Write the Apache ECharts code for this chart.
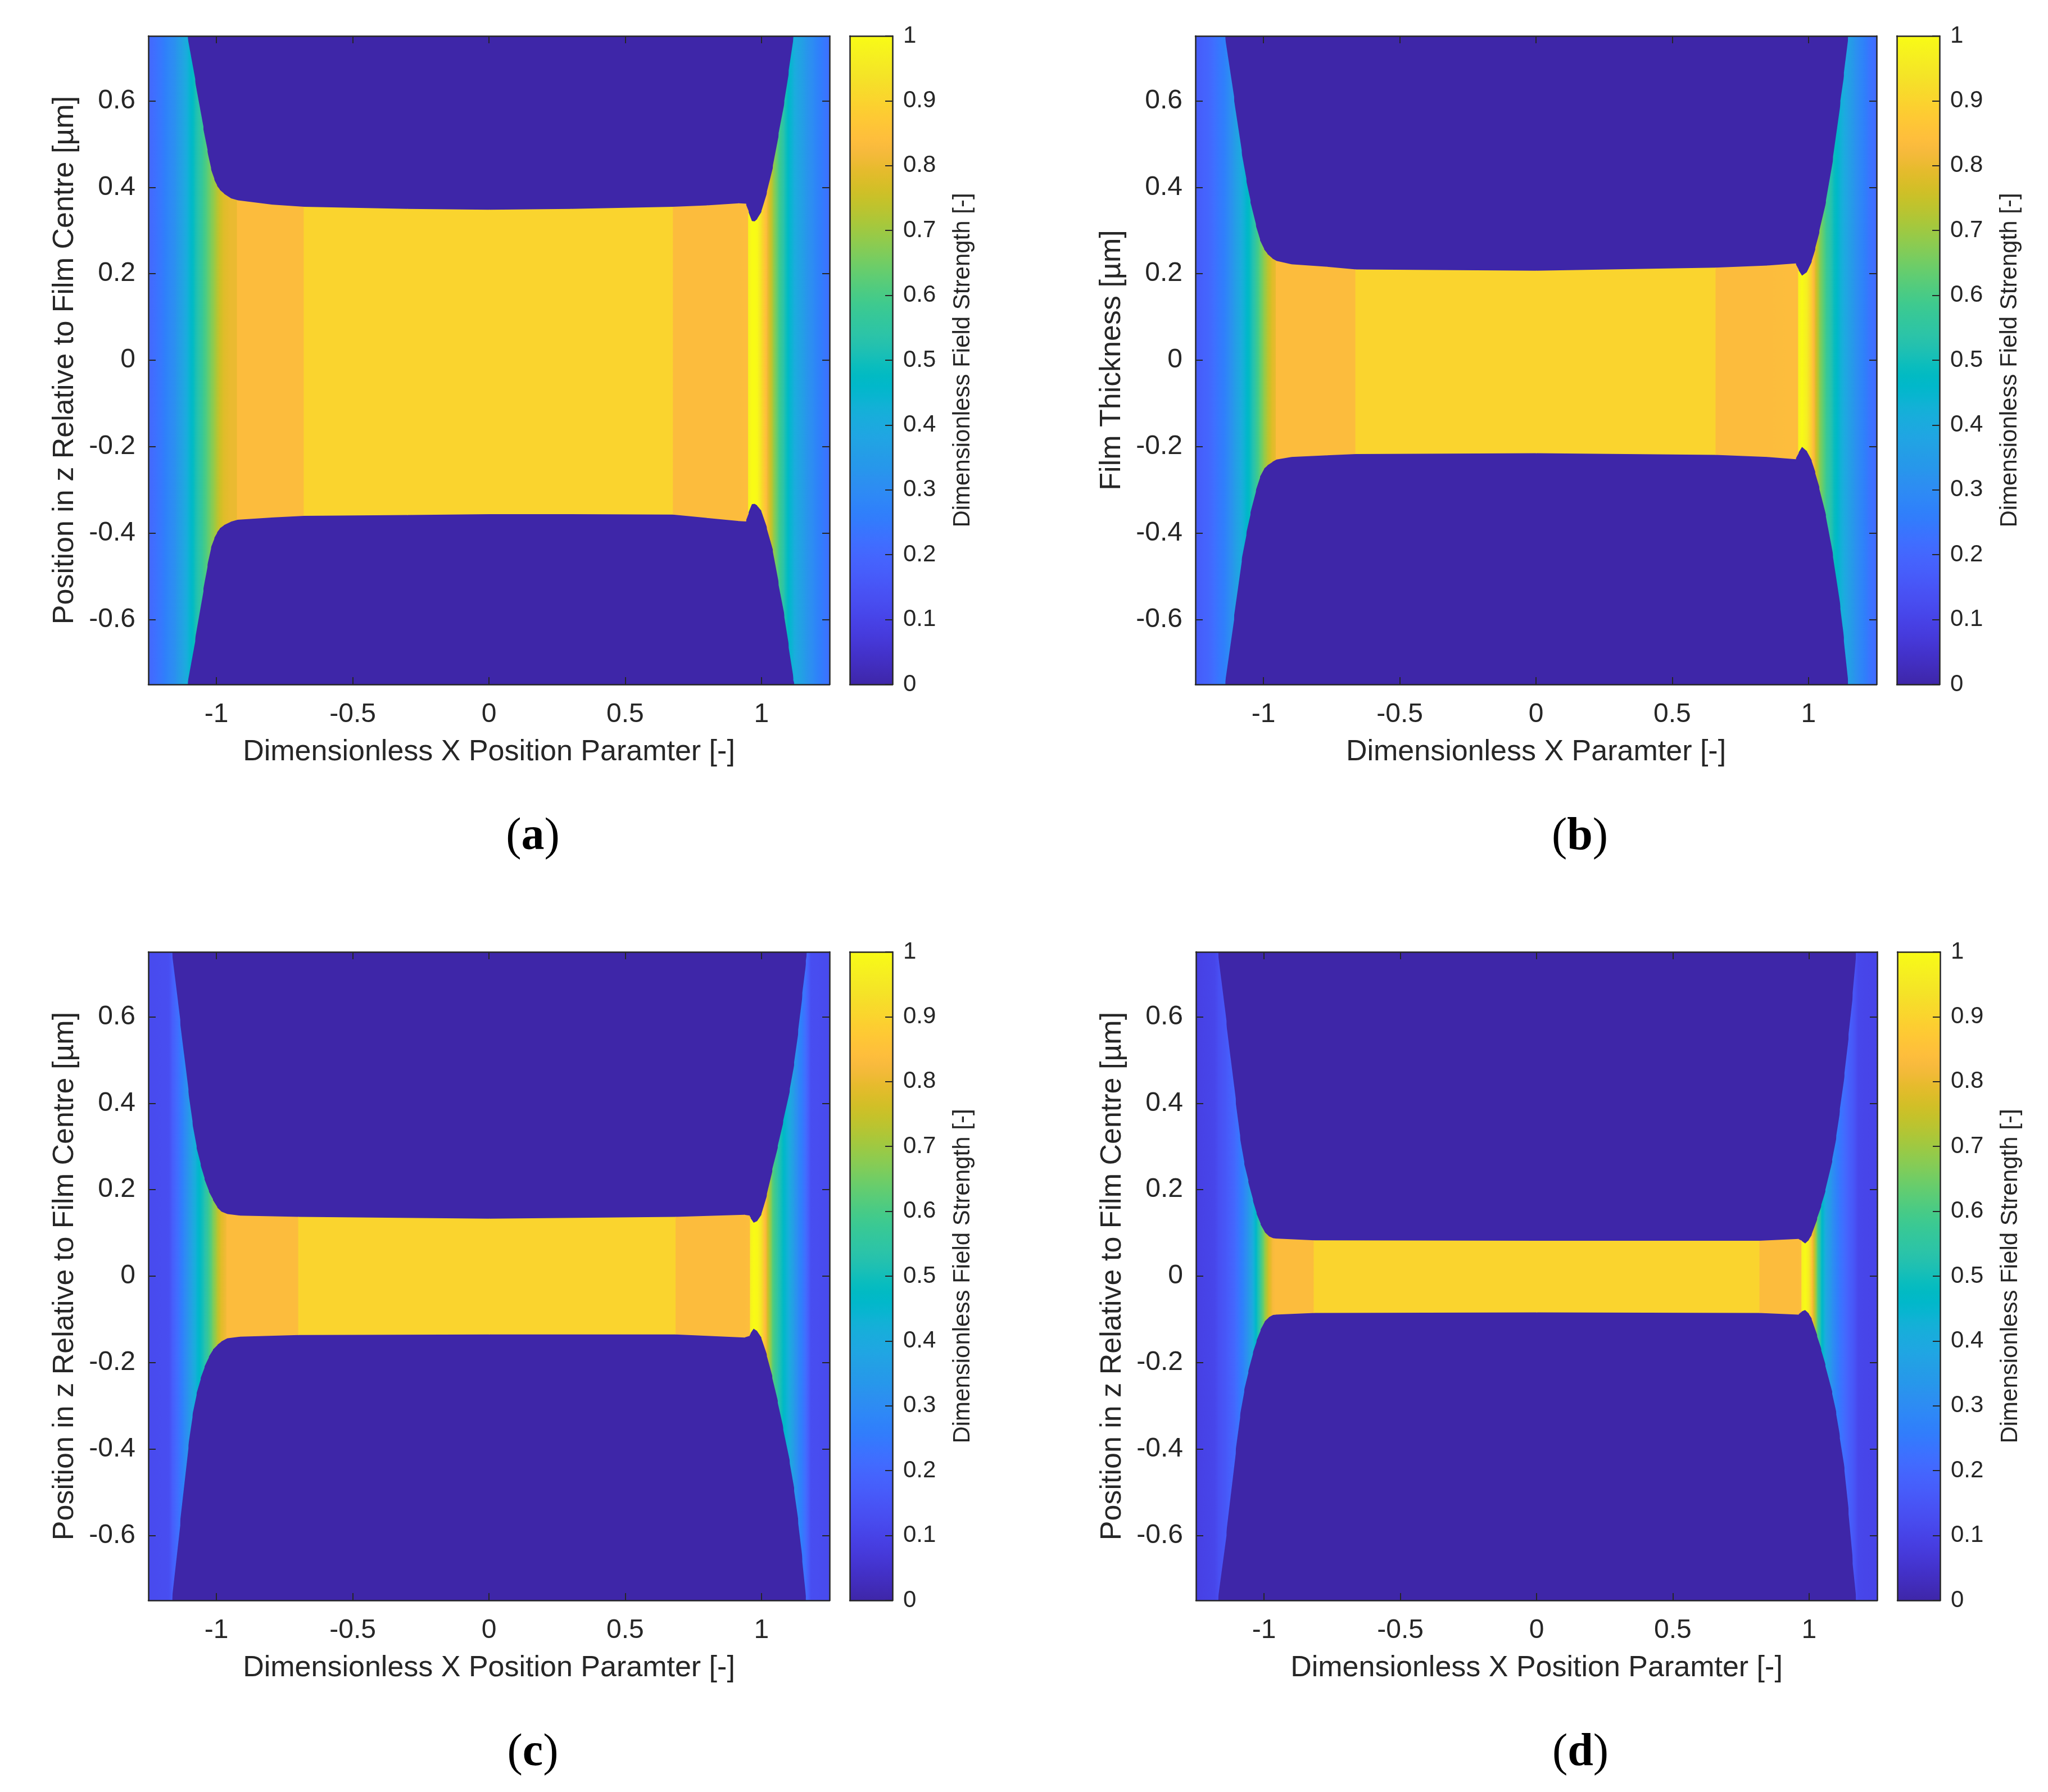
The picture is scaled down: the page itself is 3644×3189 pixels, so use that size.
<!DOCTYPE html>
<html>
<head>
<meta charset="utf-8">
<script src="https://cdn.jsdelivr.net/npm/echarts@6/dist/echarts.min.js"></script>
<style>
html, body { margin: 0; padding: 0; background: #fff; }
#main { width: 3644px; height: 3189px; }
</style>
</head>
<body>
<div id="main"></div>
<script>
// axis ranges / ticks
var xRange = [-1.25, 1.25];
var zRange = [-0.75, 0.75];
var xTicks = [-1, -0.5, 0, 0.5, 1];
var zTicks = [-0.6, -0.4, -0.2, 0, 0.2, 0.4, 0.6];
var fieldRange = [0, 1];
var bgField = 0;

// panel (a): film edges and field strength along x
var aX = [-1.25, -1.2, -1.15, -1.107, -1.08, -1.05, -1.035, -1.022, -1.01, -1.0, -0.99, -0.975, -0.95, -0.925, -0.925, -0.8, -0.68, -0.68, -0.3, 0, 0.3, 0.675, 0.675, 0.8, 0.916, 0.942, 0.951, 0.951, 0.963, 0.975, 0.985, 1.0, 1.02, 1.042, 1.063, 1.084, 1.1, 1.117, 1.12, 1.16, 1.2, 1.25];
var aTop = [0.75, 0.75, 0.75, 0.75, 0.65, 0.54, 0.487, 0.445, 0.42, 0.405, 0.395, 0.386, 0.375, 0.37, 0.37, 0.36, 0.355, 0.355, 0.35, 0.348, 0.35, 0.355, 0.355, 0.358, 0.363, 0.362, 0.345, 0.345, 0.322, 0.321, 0.328, 0.345, 0.39, 0.45, 0.525, 0.6, 0.67, 0.75, 0.75, 0.75, 0.75, 0.75];
var aBot = [-0.75, -0.75, -0.75, -0.75, -0.65, -0.535, -0.478, -0.436, -0.413, -0.4, -0.39, -0.382, -0.374, -0.369, -0.369, -0.364, -0.36, -0.36, -0.358, -0.356, -0.356, -0.357, -0.357, -0.365, -0.372, -0.373, -0.355, -0.355, -0.333, -0.332, -0.337, -0.35, -0.39, -0.443, -0.52, -0.594, -0.665, -0.74, -0.75, -0.75, -0.75, -0.75];
var aField = [0.2, 0.25, 0.32, 0.42, 0.5, 0.58, 0.62, 0.66, 0.69, 0.72, 0.75, 0.78, 0.8, 0.8, 0.835, 0.835, 0.835, 0.9, 0.9, 0.9, 0.9, 0.9, 0.835, 0.835, 0.835, 0.84, 0.84, 0.97, 1.0, 1.0, 0.99, 0.92, 0.82, 0.7, 0.6, 0.52, 0.46, 0.42, 0.41, 0.34, 0.28, 0.22];

// panel (b)
var bX = [-1.25, -1.2, -1.142, -1.11, -1.082, -1.065, -1.05, -1.03, -1.015, -1.0, -0.988, -0.97, -0.955, -0.955, -0.9, -0.768, -0.663, -0.663, 0, 0.659, 0.659, 0.85, 0.952, 0.962, 0.962, 0.975, 0.995, 1.012, 1.025, 1.04, 1.064, 1.09, 1.117, 1.13, 1.145, 1.17, 1.22, 1.25];
var bTop = [0.75, 0.75, 0.75, 0.609, 0.485, 0.42, 0.37, 0.315, 0.28, 0.258, 0.247, 0.236, 0.23, 0.23, 0.222, 0.216, 0.21, 0.21, 0.207, 0.214, 0.214, 0.219, 0.224, 0.21, 0.21, 0.195, 0.205, 0.23, 0.26, 0.3, 0.369, 0.47, 0.6, 0.665, 0.75, 0.75, 0.75, 0.75];
var bBot = [-0.75, -0.75, -0.75, -0.6, -0.466, -0.405, -0.357, -0.304, -0.272, -0.252, -0.244, -0.236, -0.23, -0.23, -0.224, -0.22, -0.217, -0.217, -0.215, -0.219, -0.219, -0.224, -0.229, -0.215, -0.215, -0.2, -0.212, -0.234, -0.262, -0.298, -0.362, -0.455, -0.575, -0.65, -0.75, -0.75, -0.75, -0.75];
var bField = [0.17, 0.2, 0.27, 0.34, 0.41, 0.45, 0.49, 0.56, 0.62, 0.68, 0.72, 0.78, 0.8, 0.835, 0.835, 0.835, 0.835, 0.9, 0.9, 0.9, 0.835, 0.835, 0.84, 0.84, 0.97, 1.0, 0.96, 0.87, 0.78, 0.68, 0.58, 0.5, 0.43, 0.4, 0.37, 0.32, 0.24, 0.21];

// panel (c)
var cX = [-1.25, -1.175, -1.164, -1.135, -1.105, -1.09, -1.075, -1.06, -1.046, -1.03, -1.015, -0.999, -0.985, -0.963, -0.963, -0.916, -0.7, -0.7, 0, 0.685, 0.685, 0.937, 0.955, 0.958, 0.958, 0.97, 0.985, 1.0, 1.02, 1.04, 1.06, 1.08, 1.104, 1.12, 1.135, 1.15, 1.163, 1.166, 1.175, 1.18, 1.25];
var cTop = [0.75, 0.75, 0.75, 0.593, 0.433, 0.358, 0.301, 0.26, 0.227, 0.198, 0.178, 0.16, 0.15, 0.144, 0.144, 0.14, 0.137, 0.137, 0.133, 0.137, 0.137, 0.142, 0.14, 0.136, 0.136, 0.123, 0.128, 0.144, 0.19, 0.248, 0.302, 0.36, 0.433, 0.495, 0.57, 0.655, 0.73, 0.75, 0.75, 0.75, 0.75];
var cBot = [-0.75, -0.75, -0.75, -0.576, -0.398, -0.326, -0.275, -0.239, -0.212, -0.188, -0.171, -0.16, -0.152, -0.144, -0.144, -0.14, -0.136, -0.136, -0.135, -0.135, -0.135, -0.142, -0.138, -0.134, -0.134, -0.121, -0.128, -0.144, -0.185, -0.236, -0.293, -0.355, -0.433, -0.497, -0.572, -0.66, -0.75, -0.75, -0.75, -0.75, -0.75];
var cField = [0.12, 0.13, 0.17, 0.24, 0.33, 0.38, 0.43, 0.48, 0.52, 0.58, 0.65, 0.72, 0.78, 0.82, 0.835, 0.835, 0.835, 0.9, 0.9, 0.9, 0.835, 0.835, 0.84, 0.84, 0.97, 1.0, 0.99, 0.93, 0.78, 0.62, 0.54, 0.47, 0.4, 0.34, 0.29, 0.25, 0.21, 0.2, 0.16, 0.13, 0.12];

// panel (d)
var dX = [-1.25, -1.18, -1.17, -1.14, -1.106, -1.09, -1.075, -1.06, -1.043, -1.03, -1.015, -1.0, -0.985, -0.97, -0.96, -0.818, -0.818, 0, 0.818, 0.818, 0.96, 0.972, 0.972, 0.985, 1.0, 1.01, 1.03, 1.045, 1.06, 1.085, 1.1, 1.113, 1.13, 1.145, 1.16, 1.172, 1.18, 1.25];
var dTop = [0.75, 0.75, 0.75, 0.59, 0.41, 0.325, 0.265, 0.222, 0.178, 0.148, 0.122, 0.103, 0.093, 0.088, 0.087, 0.083, 0.083, 0.082, 0.082, 0.082, 0.086, 0.082, 0.082, 0.075, 0.085, 0.097, 0.135, 0.165, 0.2, 0.27, 0.325, 0.386, 0.47, 0.56, 0.655, 0.75, 0.75, 0.75];
var dBot = [-0.75, -0.75, -0.75, -0.6, -0.41, -0.327, -0.268, -0.224, -0.18, -0.152, -0.126, -0.106, -0.096, -0.09, -0.089, -0.085, -0.085, -0.084, -0.085, -0.085, -0.089, -0.082, -0.082, -0.078, -0.088, -0.1, -0.14, -0.172, -0.208, -0.272, -0.32, -0.375, -0.45, -0.55, -0.665, -0.75, -0.75, -0.75];
var dField = [0.09, 0.11, 0.13, 0.16, 0.21, 0.245, 0.28, 0.33, 0.4, 0.47, 0.57, 0.67, 0.76, 0.82, 0.835, 0.835, 0.9, 0.9, 0.9, 0.835, 0.835, 0.84, 0.97, 1.0, 0.95, 0.85, 0.62, 0.48, 0.4, 0.31, 0.27, 0.24, 0.21, 0.18, 0.16, 0.13, 0.11, 0.1];

var captions = ['a', 'b', 'c', 'd'];
var xNames = ['Dimensionless X Position Paramter [-]', 'Dimensionless X Paramter [-]', 'Dimensionless X Position Paramter [-]', 'Dimensionless X Position Paramter [-]'];
var zNames = ['Position in z Relative to Film Centre [\u00b5m]', 'Film Thickness [\u00b5m]', 'Position in z Relative to Film Centre [\u00b5m]', 'Position in z Relative to Film Centre [\u00b5m]'];
var barName = 'Dimensionless Field Strength [-]';

// parula colour map
var parulaMap = [
[0.2422,0.1504,0.6603],[0.2504,0.1650,0.7076],[0.2578,0.1818,0.7511],[0.2647,0.1978,0.7952],
[0.2706,0.2147,0.8364],[0.2751,0.2342,0.8710],[0.2783,0.2559,0.8991],[0.2803,0.2782,0.9221],
[0.2813,0.3006,0.9414],[0.2810,0.3228,0.9579],[0.2795,0.3447,0.9717],[0.2760,0.3667,0.9829],
[0.2699,0.3892,0.9906],[0.2602,0.4123,0.9952],[0.2440,0.4358,0.9988],[0.2206,0.4603,0.9973],
[0.1963,0.4847,0.9892],[0.1834,0.5074,0.9798],[0.1786,0.5289,0.9682],[0.1764,0.5499,0.9520],
[0.1687,0.5703,0.9359],[0.1540,0.5902,0.9218],[0.1460,0.6091,0.9079],[0.1380,0.6276,0.8973],
[0.1248,0.6459,0.8883],[0.1113,0.6635,0.8763],[0.0952,0.6798,0.8598],[0.0689,0.6948,0.8394],
[0.0297,0.7082,0.8163],[0.0036,0.7203,0.7917],[0.0067,0.7312,0.7660],[0.0433,0.7411,0.7394],
[0.0964,0.7500,0.7120],[0.1408,0.7584,0.6842],[0.1717,0.7670,0.6554],[0.1938,0.7758,0.6251],
[0.2161,0.7843,0.5923],[0.2470,0.7918,0.5567],[0.2906,0.7973,0.5188],[0.3406,0.8008,0.4789],
[0.3909,0.8029,0.4354],[0.4456,0.8024,0.3909],[0.5044,0.7993,0.3480],[0.5616,0.7942,0.3045],
[0.6174,0.7876,0.2612],[0.6720,0.7793,0.2227],[0.7242,0.7698,0.1910],[0.7738,0.7598,0.1646],
[0.8203,0.7498,0.1535],[0.8634,0.7406,0.1596],[0.9035,0.7330,0.1774],[0.9393,0.7288,0.2100],
[0.9728,0.7298,0.2394],[0.9956,0.7434,0.2371],[0.9970,0.7659,0.2199],[0.9952,0.7893,0.2028],
[0.9892,0.8136,0.1885],[0.9786,0.8386,0.1766],[0.9676,0.8639,0.1643],[0.9610,0.8890,0.1537],
[0.9597,0.9135,0.1423],[0.9628,0.9373,0.1265],[0.9691,0.9606,0.1064],[0.9769,0.9839,0.0805]
];

function parula(v) {
    var t = (v - fieldRange[0]) / (fieldRange[1] - fieldRange[0]);
    t = Math.max(0, Math.min(1, t)) * (parulaMap.length - 1);
    var i = Math.min(Math.floor(t), parulaMap.length - 2);
    var f = t - i;
    var c = [0, 1, 2].map(function (k) {
        return Math.round(255 * (parulaMap[i][k] + (parulaMap[i + 1][k] - parulaMap[i][k]) * f));
    });
    return 'rgb(' + c.join(',') + ')';
}

var ink = '#262626';
var sans = '"Liberation Sans", Arial, Helvetica, sans-serif';
var serif = '"Liberation Serif", "Times New Roman", serif';

var panels = [
    { x: aX, top: aTop, bot: aBot, field: aField, left: 264, gtop: 64 },
    { x: bX, top: bTop, bot: bBot, field: bField, left: 2127, gtop: 64 },
    { x: cX, top: cTop, bot: cBot, field: cField, left: 264, gtop: 1694 },
    { x: dX, top: dTop, bot: dBot, field: dField, left: 2128, gtop: 1694 }
];
var plotW = 1212, plotH = 1154, barGap = 36, barW = 76;

// one strip per pair of neighbouring x samples, background first
function segments(p) {
    var out = [[xRange[0], xRange[1], zRange[1], zRange[1], zRange[0], zRange[0], bgField, bgField]];
    for (var i = 0; i < p.x.length - 1; i++) {
        if (p.x[i + 1] <= p.x[i]) continue;
        out.push([p.x[i], p.x[i + 1], p.top[i], p.top[i + 1], p.bot[i], p.bot[i + 1], p.field[i], p.field[i + 1]]);
    }
    return out;
}

function renderField(params, api) {
    var v0 = api.value(6), v1 = api.value(7);
    var pts = [
        api.coord([api.value(0), api.value(2)]),
        api.coord([api.value(1), api.value(3)]),
        api.coord([api.value(1), api.value(5)]),
        api.coord([api.value(0), api.value(4)])
    ];
    pts[1][0] += 1;
    pts[2][0] += 1;
    var stops = [];
    for (var k = 0; k <= 6; k++) {
        stops.push({ offset: k / 6, color: parula(v0 + (v1 - v0) * k / 6) });
    }
    return {
        type: 'polygon',
        shape: { points: pts },
        style: { fill: new echarts.graphic.LinearGradient(0, 0, 1, 0, stops) }
    };
}

function renderBar(params, api) {
    var p0 = api.coord([0, api.value(0)]);
    var p1 = api.coord([1, api.value(1)]);
    var stops = parulaMap.map(function (c, i) {
        return { offset: i / (parulaMap.length - 1), color: parula(fieldRange[0] + (fieldRange[1] - fieldRange[0]) * i / (parulaMap.length - 1)) };
    });
    return {
        type: 'rect',
        shape: { x: p0[0], y: p1[1], width: p1[0] - p0[0], height: p0[1] - p1[1] },
        style: { fill: new echarts.graphic.LinearGradient(0, 1, 0, 0, stops) }
    };
}

var lineStyle = { color: ink, width: 2.5 };
var tickStyle = { color: ink, width: 2 };

var option = {
    animation: false,
    backgroundColor: '#ffffff',
    grid: [], xAxis: [], yAxis: [], series: [], graphic: []
};

panels.forEach(function (p, n) {
    var gi = option.grid.length;
    option.grid.push({ left: p.left, top: p.gtop, width: plotW, height: plotH });
    option.grid.push({ left: p.left + plotW + barGap, top: p.gtop, width: barW, height: plotH });
    var xi = option.xAxis.length, yi = option.yAxis.length;

    // field plot: box with inward ticks on all sides
    option.xAxis.push({
        gridIndex: gi, type: 'value', min: xRange[0], max: xRange[1], position: 'bottom', z: 10,
        name: xNames[n], nameLocation: 'middle', nameGap: 95,
        nameTextStyle: { fontSize: 52, color: ink, fontFamily: sans },
        axisLine: { show: true, onZero: false, lineStyle: lineStyle },
        axisTick: { show: true, inside: true, length: 13, customValues: xTicks, lineStyle: tickStyle },
        axisLabel: { show: true, margin: 30, fontSize: 48, color: ink, fontFamily: sans, customValues: xTicks },
        splitLine: { show: false }
    });
    option.xAxis.push({
        gridIndex: gi, type: 'value', min: xRange[0], max: xRange[1], position: 'top', z: 10,
        axisLine: { show: true, onZero: false, lineStyle: lineStyle },
        axisTick: { show: true, inside: true, length: 13, customValues: xTicks, lineStyle: tickStyle },
        axisLabel: { show: false }, splitLine: { show: false }
    });
    option.yAxis.push({
        gridIndex: gi, type: 'value', min: zRange[0], max: zRange[1], position: 'left', z: 10,
        name: zNames[n], nameLocation: 'middle', nameRotate: 90, nameGap: 122,
        nameTextStyle: { fontSize: 52, color: ink, fontFamily: sans },
        axisLine: { show: true, onZero: false, lineStyle: lineStyle },
        axisTick: { show: true, inside: true, length: 13, customValues: zTicks, lineStyle: tickStyle },
        axisLabel: { show: true, margin: 23, fontSize: 48, color: ink, fontFamily: sans, customValues: zTicks },
        splitLine: { show: false }
    });
    option.yAxis.push({
        gridIndex: gi, type: 'value', min: zRange[0], max: zRange[1], position: 'right', z: 10,
        axisLine: { show: true, onZero: false, lineStyle: lineStyle },
        axisTick: { show: true, inside: true, length: 13, customValues: zTicks, lineStyle: tickStyle },
        axisLabel: { show: false }, splitLine: { show: false }
    });

    // colour bar
    [ 'bottom', 'top' ].forEach(function (pos) {
        option.xAxis.push({
            gridIndex: gi + 1, type: 'value', min: 0, max: 1, position: pos, z: 10,
            axisLine: { show: true, onZero: false, lineStyle: lineStyle },
            axisTick: { show: false }, axisLabel: { show: false }, splitLine: { show: false }
        });
    });
    option.yAxis.push({
        gridIndex: gi + 1, type: 'value', min: fieldRange[0], max: fieldRange[1], position: 'left', z: 10,
        axisLine: { show: true, onZero: false, lineStyle: lineStyle },
        axisTick: { show: false }, axisLabel: { show: false }, splitLine: { show: false }
    });
    option.yAxis.push({
        gridIndex: gi + 1, type: 'value', min: fieldRange[0], max: fieldRange[1], interval: 0.1, position: 'right', z: 10,
        name: barName, nameLocation: 'middle', nameRotate: 90, nameGap: 104,
        nameTextStyle: { fontSize: 42, color: ink, fontFamily: sans },
        axisLine: { show: true, onZero: false, lineStyle: lineStyle },
        axisTick: { show: true, inside: true, length: 13, lineStyle: tickStyle },
        axisLabel: { show: true, margin: 19, fontSize: 42, color: ink, fontFamily: sans },
        splitLine: { show: false }
    });

    option.series.push({
        type: 'custom', coordinateSystem: 'cartesian2d',
        xAxisIndex: xi, yAxisIndex: yi, z: 1, clip: true, silent: true,
        renderItem: renderField, data: segments(p)
    });
    option.series.push({
        type: 'custom', coordinateSystem: 'cartesian2d',
        xAxisIndex: xi + 2, yAxisIndex: yi + 3, z: 1, silent: true,
        renderItem: renderBar, data: [fieldRange]
    });

    option.graphic.push({
        type: 'text', x: p.left + 684, y: p.gtop + 1426,
        style: {
            text: '{p|(}{b|' + captions[n] + '}{p|)}',
            align: 'center', verticalAlign: 'middle', fill: '#000',
            fontWeight: 'normal',
            rich: {
                p: { fontFamily: serif, fontSize: 82, fontWeight: 'normal', fill: '#000' },
                b: { fontFamily: serif, fontSize: 82, fontWeight: 'bold', fill: '#000' }
            }
        }
    });
});

var myChart = echarts.init(document.getElementById('main'));
myChart.setOption(option);
</script>
</body>
</html>
